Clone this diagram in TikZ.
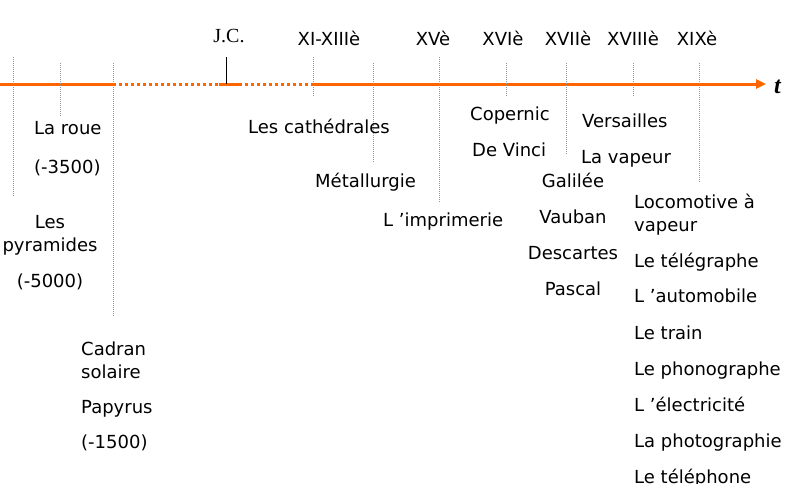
\documentclass[tikz,border=0pt]{standalone}
\usepackage{fontspec}
\setmainfont{DejaVu Sans}
\newfontfamily\seriffont{Liberation Serif}
\usetikzlibrary{arrows.meta}
\definecolor{axisorange}{RGB}{255,102,0}
\definecolor{tickgray}{RGB}{150,150,150}
\begin{document}
\begin{tikzpicture}[x=1pt,y=-1pt,
  lbl/.style={inner sep=0pt, font=\fontsize{18}{23}\selectfont, anchor=base west},
  lblc/.style={lbl, anchor=base},
  tickline/.style={draw=tickgray, line width=0.7pt, dash pattern=on 1pt off 1pt},
  axisline/.style={draw=axisorange, line width=3pt},
  axisdots/.style={axisline, dash pattern=on 3pt off 3pt}]
\useasboundingbox (0,0) rectangle (789,483);

% axis
\coordinate (a0) at (0,84);
\coordinate (a1) at (113,84);
\coordinate (a2) at (313,84);
\coordinate (a3) at (766,84);
\coordinate (jc1) at (219,84);
\coordinate (jc2) at (240,84);
\draw[axisline] (a0) -- (a1);
\draw[axisdots] (a1) -- (a2);
\draw[axisline] (jc1) -- (jc2);
\draw[axisline, -{Triangle[length=10pt,width=9pt]}] (a2) -- (a3);

% ticks
\draw[tickline] (13,57) -- (13,197);
\draw[tickline] (60,63) -- (60,116);
\draw[tickline] (113,63) -- (113,317);
\draw[tickline] (313,57) -- (313,97);
\draw[tickline] (373,63) -- (373,162);
\draw[tickline] (439,57) -- (439,202);
\draw[tickline] (506,63) -- (506,97);
\draw[tickline] (566,63) -- (566,155);
\draw[tickline] (633,63) -- (633,97);
\draw[tickline] (699,63) -- (699,182);
\draw[black, line width=0.8pt] (226,57) -- (226,84);

% top labels
\node[inner sep=0pt, anchor=base, font=\seriffont\fontsize{20}{20}\selectfont] (jc) at (229,42) {J.C.};
\node[lblc] (c11) at (329,45) {XI-XIIIè};
\node[lblc] (c15) at (433,45) {XVè};
\node[lblc] (c16) at (503,45) {XVIè};
\node[lblc] (c17) at (568,45) {XVIIè};
\node[lblc] (c18) at (633,45) {XVIIIè};
\node[lblc] (c19) at (697,45) {XIXè};
\node[inner sep=0pt, anchor=base west, font=\seriffont\bfseries\itshape\fontsize{24}{24}\selectfont] (t) at (774,93) {t};

% prehistory
\node[lbl] (roue) at (34,134) {La roue};
\node[lbl] (m3500) at (34,173) {(-3500)};
\node[lblc] (les) at (50,228) {Les};
\node[lblc] (pyr) at (50,251) {pyramides};
\node[lblc] (m5000) at (50,287) {(-5000)};
\node[lbl] (cad) at (81,355) {Cadran};
\node[lbl] (sol) at (81,378) {solaire};
\node[lbl] (pap) at (81,413) {Papyrus};
\node[lbl] (m1500) at (81,448) {(-1500)};

% middle ages / renaissance
\node[lbl] (cath) at (248,133) {Les cathédrales};
\node[lbl] (met) at (315,187) {Métallurgie};
\node[lbl] (imp) at (383,226) {L 'imprimerie};
\node[lbl] (cop) at (470,120) {Copernic};
\node[lbl] (vinci) at (472,156) {De Vinci};
\node[lbl] (vers) at (582,127) {Versailles};
\node[lbl] (vap) at (581,163) {La vapeur};
\node[lblc] (gal) at (573,187) {Galilée};
\node[lblc] (vau) at (573,223) {Vauban};
\node[lblc] (desc) at (573,259) {Descartes};
\node[lblc] (pasc) at (573,295) {Pascal};

% XIXe
\node[lbl] (loco) at (634,208) {Locomotive à};
\node[lbl] (loco2) at (634,231) {vapeur};
\node[lbl] (tele) at (634,267) {Le télégraphe};
\node[lbl] (auto) at (634,302) {L 'automobile};
\node[lbl] (train) at (634,339) {Le train};
\node[lbl] (phono) at (634,375) {Le phonographe};
\node[lbl] (elec) at (634,411) {L 'électricité};
\node[lbl] (photo) at (634,447) {La photographie};
\node[lbl] (telep) at (634,483) {Le téléphone};
\end{tikzpicture}
\end{document}
